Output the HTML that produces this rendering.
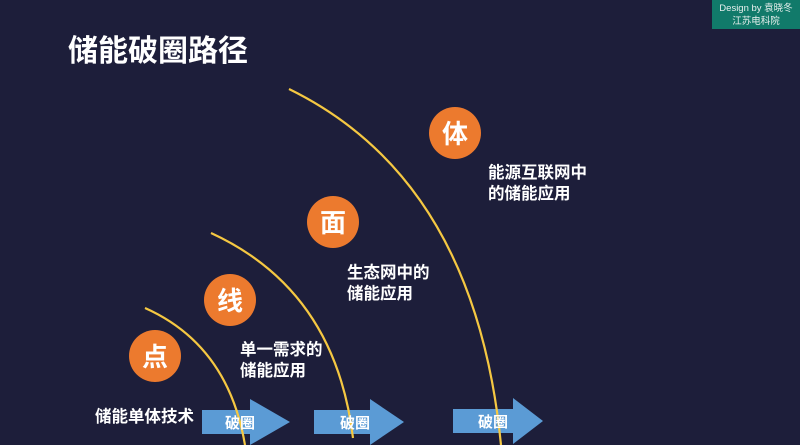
<!DOCTYPE html>
<html><head><meta charset="utf-8"><style>
body{margin:0;width:800px;height:445px;overflow:hidden;background:#1d1e3a;font-family:"Liberation Sans","Noto Sans CJK SC",sans-serif;}
</style></head><body>
<svg width="800" height="445" xmlns="http://www.w3.org/2000/svg" style="position:absolute;left:0;top:0;font-family:'Liberation Sans','Noto Sans CJK SC',sans-serif">
<rect width="800" height="445" fill="#1d1e3a"/>
<rect x="712" y="0" width="88" height="29" fill="#117a6a"/>
<text x="756" y="11" fill="#e8f0ee" font-size="9.5" text-anchor="middle">Design by 袁晓冬</text>
<text x="756" y="24" fill="#e8f0ee" font-size="9.5" text-anchor="middle">江苏电科院</text>
<text x="68" y="61" fill="#fff" font-size="30" font-weight="bold">储能破圈路径</text>
<g fill="#5b9bd5">
<polygon points="202,410 250,410 250,399 290,422 250,445 250,434 202,434"/>
<polygon points="314,410 370,410 370,399 404,422 370,445 370,434 314,434"/>
<polygon points="453,409 513,409 513,398 543,421 513,444 513,433 453,433"/>
</g>
<g fill="none" stroke="#f5c842" stroke-width="2.2">
<path d="M145,308 Q228,345 245,445"/>
<path d="M211,233 Q335,290 353,438"/>
<path d="M289,89 Q475,180 501,445"/>
</g>
<g fill="#fff" font-size="15" font-weight="bold" text-anchor="middle">
<text x="240" y="428">破圈</text>
<text x="355" y="428">破圈</text>
<text x="493" y="427">破圈</text>
</g>
<g fill="#ec7a2e">
<circle cx="155" cy="356" r="26"/>
<circle cx="230" cy="300" r="26"/>
<circle cx="333" cy="222" r="26"/>
<circle cx="455" cy="133" r="26"/>
</g>
<g fill="#fff" font-size="26" font-weight="bold" text-anchor="middle">
<text x="155" y="366">点</text>
<text x="230" y="310">线</text>
<text x="333" y="232">面</text>
<text x="455" y="143">体</text>
</g>
<g fill="#fff" font-size="16.5" font-weight="bold">
<text x="95" y="422">储能单体技术</text>
<text x="240" y="355">单一需求的</text>
<text x="240" y="376">储能应用</text>
<text x="347" y="278">生态网中的</text>
<text x="347" y="299">储能应用</text>
<text x="488" y="178">能源互联网中</text>
<text x="488" y="199">的储能应用</text>
</g>
</svg>
</body></html>
